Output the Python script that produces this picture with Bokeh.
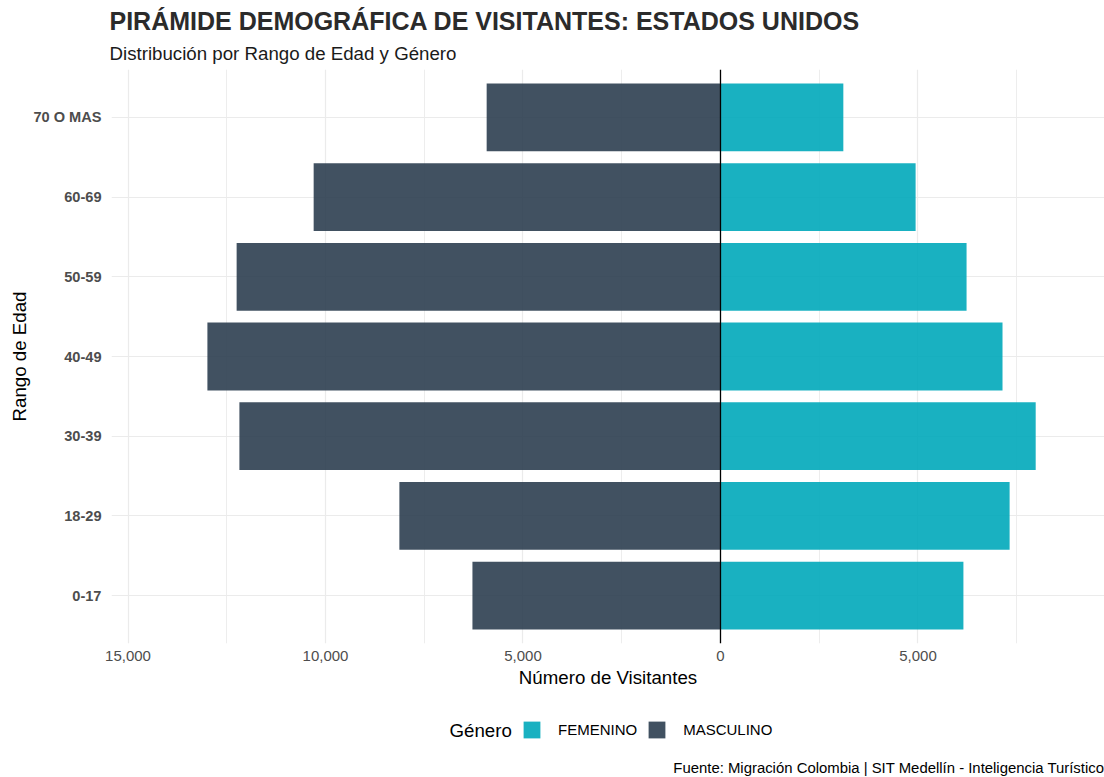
from bokeh.plotting import figure
from bokeh.layouts import column
from bokeh.models import (ColumnDataSource, FixedTicker, Range1d, Span, Legend,
                          LegendItem, Title, Label)
from bokeh.embed import file_html
from bokeh.resources import INLINE

# ---- data ----
age_groups = ["0-17", "18-29", "30-39", "40-49", "50-59", "60-69", "70 O MAS"]
masculino = [6280, 8130, 12180, 12990, 12250, 10300, 5920]
femenino = [6150, 7320, 7980, 7140, 6230, 4940, 3110]
x_ticks = [-15000, -10000, -5000, 0, 5000]
x_tick_labels = ["15,000", "10,000", "5,000", "0", "5,000"]
x_minor_ticks = [-12500, -7500, -2500, 2500, 7500]
legend_labels = ["FEMENINO", "MASCULINO"]

title_text = "PIRÁMIDE DEMOGRÁFICA DE VISITANTES: ESTADOS UNIDOS"
subtitle_text = "Distribución por Rango de Edad y Género"
caption_text = "Fuente: Migración Colombia | SIT Medellín - Inteligencia Turístico"

FONT = "Liberation Sans"
MALE = "#2C3E50"
FEMALE = "#00A9BA"

ys = list(range(1, len(age_groups) + 1))
src = ColumnDataSource(dict(
    y=ys,
    m_left=[-v for v in masculino],
    f_right=femenino,
))

W = 1104
p = figure(width=W, height=698,
           x_range=Range1d(-15418, 9722), y_range=Range1d(0.4, 7.6),
           output_backend="svg", toolbar_location=None,
           min_border_left=111, min_border_right=0,
           min_border_top=69, min_border_bottom=55)
p.outline_line_color = None
p.background_fill_color = "white"
p.border_fill_color = "white"

# grid
xt = FixedTicker(ticks=x_ticks, minor_ticks=x_minor_ticks)
p.xaxis.ticker = xt
p.xgrid.ticker = xt
p.xgrid.grid_line_color = "#EBEBEB"
p.xgrid.grid_line_width = 1.2
p.xgrid.minor_grid_line_color = "#EBEBEB"
p.xgrid.minor_grid_line_width = 0.9
yt = FixedTicker(ticks=ys)
p.yaxis.ticker = yt
p.ygrid.ticker = yt
p.ygrid.grid_line_color = "#EBEBEB"
p.ygrid.grid_line_width = 1.2

# bars
rm = p.hbar(y="y", left="m_left", right=0, height=0.85, source=src,
            fill_color=MALE, fill_alpha=0.9, line_color=None)
rf = p.hbar(y="y", left=0, right="f_right", height=0.85, source=src,
            fill_color=FEMALE, fill_alpha=0.9, line_color=None)

p.add_layout(Span(location=0, dimension="height", line_color="black", line_width=1.3))

# axes
for ax in (p.xaxis[0], p.yaxis[0]):
    ax.axis_line_color = None
    ax.major_tick_line_color = None
    ax.minor_tick_line_color = None
    ax.major_tick_out = 0
    ax.minor_tick_out = 0
    ax.major_tick_in = 0
    ax.minor_tick_in = 0
    ax.major_label_text_font = FONT
    ax.major_label_text_font_size = "15px"
    ax.major_label_text_color = "#4D4D4D"
    ax.axis_label_text_font = FONT
    ax.axis_label_text_font_size = "18.7px"
    ax.axis_label_text_font_style = "normal"
    ax.axis_label_text_color = "black"

p.xaxis.major_label_overrides = dict(zip(x_ticks, x_tick_labels))
p.xaxis.axis_label = "Número de Visitantes"
p.xaxis.major_label_standoff = 7
p.xaxis.axis_label_standoff = 3

p.yaxis.major_label_overrides = dict(zip(ys, age_groups))
p.yaxis.major_label_text_font_style = "bold"
p.yaxis.major_label_text_font_size = "14.6px"
p.yaxis.axis_label = "Rango de Edad"
p.yaxis.major_label_standoff = 10
p.yaxis.axis_label_standoff = 0

# titles
p.title.text = title_text
p.title.text_font = FONT
p.title.text_font_size = "25px"
p.title.text_font_style = "bold"
p.title.text_color = "#2B2B2B"
p.title.align = "left"
p.title.offset = -2
p.title.standoff = 1
p.add_layout(Title(text=subtitle_text, text_font=FONT, text_font_size="18.7px",
                   text_font_style="normal", text_color="#1A1A1A", align="left",
                   offset=-2, standoff=11), "above")

# ---- legend / caption strip ----
H2 = 79
PW = W - 111
p2 = figure(width=W, height=H2, x_range=Range1d(0, PW), y_range=Range1d(0, H2),
            output_backend="svg", toolbar_location=None,
            min_border_left=111, min_border_right=0, min_border_top=0, min_border_bottom=0)
p2.axis.visible = False
p2.grid.visible = False
p2.outline_line_color = None
p2.background_fill_color = "white"
p2.border_fill_color = "white"

# off-screen key glyphs for the legend
key_src = ColumnDataSource(dict(y=[-1000], l=[0], r=[0]))
lf = p2.hbar(y="y", left="l", right="r", height=1, source=key_src,
             fill_color=FEMALE, fill_alpha=0.9, line_color=None)
lm = p2.hbar(y="y", left="l", right="r", height=1, source=key_src,
             fill_color=MALE, fill_alpha=0.9, line_color=None)

p2.add_layout(Label(x=338, y=47, text="Género", text_font=FONT, text_font_size="18.7px",
                    text_color="black", text_baseline="middle", text_align="left"))

legend = Legend(items=[
    LegendItem(label=legend_labels[0], renderers=[lf]),
    LegendItem(label=legend_labels[1], renderers=[lm]),
], orientation="horizontal", location=(410, 37))
legend.label_text_font = FONT
legend.label_text_font_size = "15px"
legend.label_text_color = "black"
legend.glyph_width = 21
legend.glyph_height = 21
legend.label_height = 21
legend.label_standoff = 16
legend.spacing = 9
legend.padding = 0
legend.margin = 0
legend.border_line_color = None
legend.background_fill_alpha = 0
p2.add_layout(legend, "center")

p2.add_layout(Label(x=PW, y=10, text=caption_text, text_font=FONT, text_font_size="14.9px",
                    text_color="black", text_baseline="middle", text_align="right"))

layout = column(p, p2, spacing=0)
open("out.html", "w").write(file_html(layout, INLINE))
